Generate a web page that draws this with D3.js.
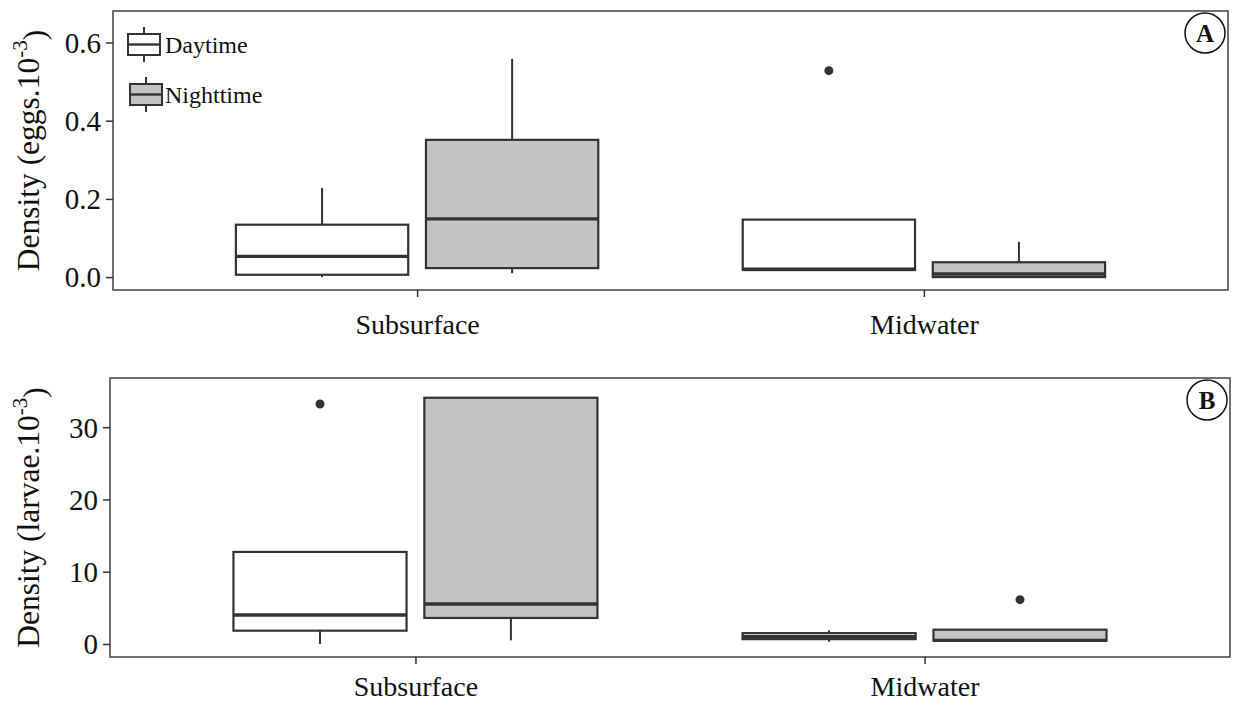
<!DOCTYPE html>
<html>
<head>
<meta charset="utf-8">
<script src="https://cdn.jsdelivr.net/npm/d3@7"></script>
<style>
  html, body { margin: 0; padding: 0; background: #fff; }
  svg { display: block; font-family: "Liberation Serif", "Times New Roman", serif; }
</style>
</head>
<body>
<svg id="chart" width="1235" height="705"></svg>
<script>
// Sampling depth categories and day/night periods
const positions = ["Subsurface", "Midwater"];
const periods = ["Daytime", "Nighttime"];

// Box statistics, order: Subsurface-Day, Subsurface-Night, Midwater-Day, Midwater-Night
// Eggs (eggs.10^-3)
const eggsWhiskerLow  = [0.000, 0.010, 0.018, 0.000];
const eggsQ1          = [0.006, 0.023, 0.018, 0.000];
const eggsMedian      = [0.053, 0.149, 0.020, 0.008];
const eggsQ3          = [0.134, 0.351, 0.147, 0.038];
const eggsWhiskerHigh = [0.228, 0.558, 0.147, 0.090];
const eggsOutliers    = [[], [], [0.528], []];
const eggsTicks = [0.0, 0.2, 0.4, 0.6];

// Larvae (larvae.10^-3)
const larvaeWhiskerLow  = [0.00, 0.50, 0.30, 0.46];
const larvaeQ1          = [1.84, 3.60, 0.67, 0.46];
const larvaeMedian      = [4.02, 5.54, 1.00, 0.50];
const larvaeQ3          = [12.74, 34.07, 1.50, 1.98];
const larvaeWhiskerHigh = [12.74, 34.07, 1.90, 1.98];
const larvaeOutliers    = [[33.2], [], [], [6.13]];
const larvaeTicks = [0, 10, 20, 30];

const fills = { Daytime: "#ffffff", Nighttime: "#c3c3c3" };
const ink = "#333333";
const serif = "'Liberation Serif', 'Times New Roman', serif";

function buildRows(lo, q1, med, q3, hi, out) {
  const rows = [];
  positions.forEach((pos, i) => {
    periods.forEach((per, j) => {
      const k = i * periods.length + j;
      rows.push({ pos, per, lo: lo[k], q1: q1[k], med: med[k], q3: q3[k], hi: hi[k], out: out[k] });
    });
  });
  return rows;
}

const svg = d3.select("#chart");

function drawPanel(cfg) {
  const { rows, left, right, top, bottom, domain, ticks, fmt, title, tag, legend, xPad } = cfg;
  const g = svg.append("g");

  const x = d3.scalePoint().domain(positions).range([left, right]).padding(0.6);
  const step = x.step();
  const offset = d3.scaleOrdinal().domain(periods).range([-0.1875, 0.1875]);
  const boxW = 0.34 * step;
  const y = d3.scaleLinear().domain(domain).range([bottom, top]);

  // panel frame
  g.append("rect")
    .attr("x", left).attr("y", top)
    .attr("width", right - left).attr("height", bottom - top)
    .attr("fill", "none").attr("stroke", "#4d4d4d").attr("stroke-width", 1.6);

  // axes
  const ya = g.append("g").attr("transform", `translate(${left},0)`)
    .call(d3.axisLeft(y).tickValues(ticks).tickFormat(fmt).tickSize(7).tickPadding(5));
  ya.select(".domain").remove();
  ya.selectAll(".tick line").attr("stroke", ink).attr("stroke-width", 1.5);
  ya.selectAll(".tick text").attr("fill", "#111").style("font-size", "29px")
    .style("font-family", serif).attr("dy", "0.34em");

  const xa = g.append("g").attr("transform", `translate(0,${bottom})`)
    .call(d3.axisBottom(x).tickSize(7).tickPadding(xPad));
  xa.select(".domain").remove();
  xa.selectAll(".tick line").attr("stroke", ink).attr("stroke-width", 1.5);
  xa.selectAll(".tick text").attr("fill", "#111").style("font-size", "28px")
    .style("font-family", serif).attr("dy", "0.71em");

  // y title
  const yt = g.append("text")
    .attr("transform", `translate(39,${(top + bottom) / 2}) rotate(-90)`)
    .attr("text-anchor", "middle")
    .attr("fill", "#111")
    .style("font-size", "31.5px");
  yt.append("tspan").text(title);
  yt.append("tspan").attr("dy", "-0.55em").style("font-size", "21px").text("-3");
  yt.append("tspan").attr("dy", "0.55em").text(")");

  // boxes
  const boxes = g.selectAll("g.box").data(rows).enter().append("g").attr("class", "box");
  const cx = d => x(d.pos) + offset(d.per) * step;

  boxes.append("line")
    .attr("x1", cx).attr("x2", cx)
    .attr("y1", d => y(d.q3)).attr("y2", d => y(d.hi))
    .attr("stroke", ink).attr("stroke-width", 2);
  boxes.append("line")
    .attr("x1", cx).attr("x2", cx)
    .attr("y1", d => y(d.q1)).attr("y2", d => y(d.lo))
    .attr("stroke", ink).attr("stroke-width", 2);
  boxes.append("rect")
    .attr("x", d => cx(d) - boxW / 2).attr("width", boxW)
    .attr("y", d => y(d.q3)).attr("height", d => y(d.q1) - y(d.q3))
    .attr("fill", d => fills[d.per])
    .attr("stroke", ink).attr("stroke-width", 2.2);
  boxes.append("line")
    .attr("x1", d => cx(d) - boxW / 2).attr("x2", d => cx(d) + boxW / 2)
    .attr("y1", d => y(d.med)).attr("y2", d => y(d.med))
    .attr("stroke", ink).attr("stroke-width", 3.4);
  boxes.selectAll("circle").data(d => d.out.map(v => ({ v, cx: cx(d) }))).enter()
    .append("circle")
    .attr("cx", d => d.cx).attr("cy", d => y(d.v)).attr("r", 4.5)
    .attr("fill", ink);

  // panel tag
  const tx = right - 23, ty = top + 22;
  g.append("circle").attr("cx", tx).attr("cy", ty).attr("r", 20)
    .attr("fill", "#fff").attr("stroke", "#111").attr("stroke-width", 1.5);
  g.append("text").attr("x", tx).attr("y", ty).attr("dy", "0.35em")
    .attr("text-anchor", "middle").attr("fill", "#111")
    .style("font-size", "25px").style("font-weight", "bold").text(tag);

  if (legend) {
    const keys = [
      { per: "Daytime", y0: 34, x0: 128 },
      { per: "Nighttime", y0: 84, x0: 130 }
    ];
    const kw = 32, kh = 21;
    const lg = g.selectAll("g.key").data(keys).enter().append("g").attr("class", "key");
    lg.append("line")
      .attr("x1", d => d.x0 + kw / 2).attr("x2", d => d.x0 + kw / 2)
      .attr("y1", d => d.y0 - 7).attr("y2", d => d.y0 + kh + 7)
      .attr("stroke", ink).attr("stroke-width", 2);
    lg.append("rect")
      .attr("x", d => d.x0).attr("y", d => d.y0).attr("width", kw).attr("height", kh)
      .attr("fill", d => fills[d.per]).attr("stroke", ink).attr("stroke-width", 2);
    lg.append("line")
      .attr("x1", d => d.x0).attr("x2", d => d.x0 + kw)
      .attr("y1", d => d.y0 + kh / 2).attr("y2", d => d.y0 + kh / 2)
      .attr("stroke", ink).attr("stroke-width", 2.4);
    lg.append("text")
      .attr("x", 165).attr("y", d => d.y0 + kh / 2).attr("dy", "0.35em")
      .attr("fill", "#111").style("font-size", "24px")
      .text(d => d.per);
  }
}

drawPanel({
  rows: buildRows(eggsWhiskerLow, eggsQ1, eggsMedian, eggsQ3, eggsWhiskerHigh, eggsOutliers),
  left: 113, right: 1228, top: 11, bottom: 290,
  domain: [-0.033, 0.6805], ticks: eggsTicks, fmt: d3.format(".1f"),
  title: "Density (eggs.10", tag: "A", legend: true, xPad: 17
});

drawPanel({
  rows: buildRows(larvaeWhiskerLow, larvaeQ1, larvaeMedian, larvaeQ3, larvaeWhiskerHigh, larvaeOutliers),
  left: 110, right: 1230, top: 378, bottom: 657,
  domain: [-1.8, 36.8], ticks: larvaeTicks, fmt: d3.format("d"),
  title: "Density (larvae.10", tag: "B", legend: false, xPad: 12
});
</script>
</body>
</html>
